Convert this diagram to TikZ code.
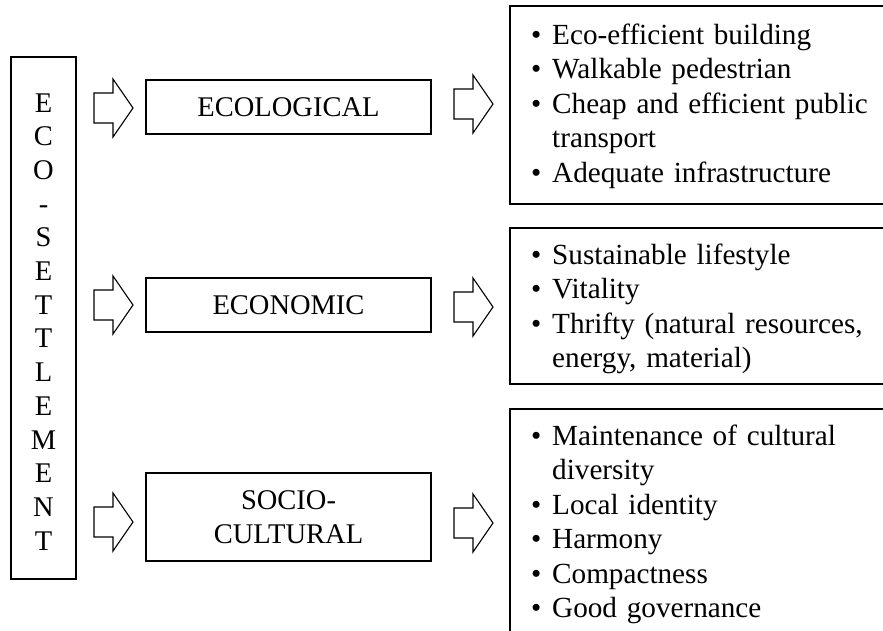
\documentclass[tikz,border=0pt]{standalone}
\usepackage{fontspec}
\setmainfont{Liberation Serif}
\newcommand\bitem[1]{\hangindent=21pt\hangafter=1\noindent\makebox[21pt][l]{\textbullet}#1\par}
\tikzset{
  box/.style={draw, line width=1.4pt, inner sep=0pt, outer sep=0pt},
  bigfont/.style={font=\fontsize{28.5}{34.5}\selectfont},
  list/.style={font=\fontsize{29.2}{34.5}\selectfont, text width=370pt, inner sep=0pt, anchor=base west},
  blockarr/.pic={\draw[line width=1.1pt, line join=miter] (0,-15)--(19,-15)--(19,-29)--(39,0)--(19,29)--(19,15)--(0,15)--cycle;}
}
\begin{document}
\begin{tikzpicture}[x=1pt,y=-1pt]
\useasboundingbox (0,0) rectangle (883,630);
\clip (0,0) rectangle (883,630);
% left column
\node[box, minimum width=65pt, minimum height=522pt, anchor=north west] (eco) at (11,57) {};
\node[font=\fontsize{28.5}{33.7}\selectfont, text width=40pt, align=center, inner sep=0pt, anchor=base] (ecotext) at (43.5,112) {E\\C\\O\\-\\S\\E\\T\\T\\L\\E\\M\\E\\N\\T};
% middle boxes
\node[box, bigfont, minimum width=285pt, minimum height=54pt, anchor=north west] (ecol) at (146,80) {ECOLOGICAL};
\node[box, bigfont, minimum width=285pt, minimum height=54pt, anchor=north west] (econ) at (146,278) {ECONOMIC};
\node[box, bigfont, minimum width=285pt, minimum height=88pt, anchor=north west, align=center] (soc) at (146,473) {SOCIO-\\CULTURAL};
% right boxes
\node[box, minimum width=400pt, minimum height=198pt, anchor=north west] (r1) at (510,6) {};
\node[box, minimum width=400pt, minimum height=156pt, anchor=north west] (r2) at (510,228) {};
\node[box, minimum width=400pt, minimum height=260pt, anchor=north west] (r3) at (510,409) {};
\node[list] (t1) at (531,44) {\parindent=0pt\raggedright\bitem{Eco-efficient building}\bitem{Walkable pedestrian}\bitem{Cheap and efficient public\newline transport}\bitem{Adequate infrastructure}};
\node[list] (t2) at (531,264) {\parindent=0pt\raggedright\bitem{Sustainable lifestyle}\bitem{Vitality}\bitem{Thrifty (natural resources,\newline energy, material)}};
\node[list] (t3) at (531,445) {\parindent=0pt\raggedright\bitem{Maintenance of cultural\newline diversity}\bitem{Local identity}\bitem{Harmony}\bitem{Compactness}\bitem{Good governance}};
% block arrows
\pic (a1) at (94,108) {blockarr};
\pic (a2) at (94,305) {blockarr};
\pic (a3) at (94,522) {blockarr};
\pic (b1) at (454,104) {blockarr};
\pic (b2) at (454,307) {blockarr};
\pic (b3) at (454,523) {blockarr};
\end{tikzpicture}
\end{document}
